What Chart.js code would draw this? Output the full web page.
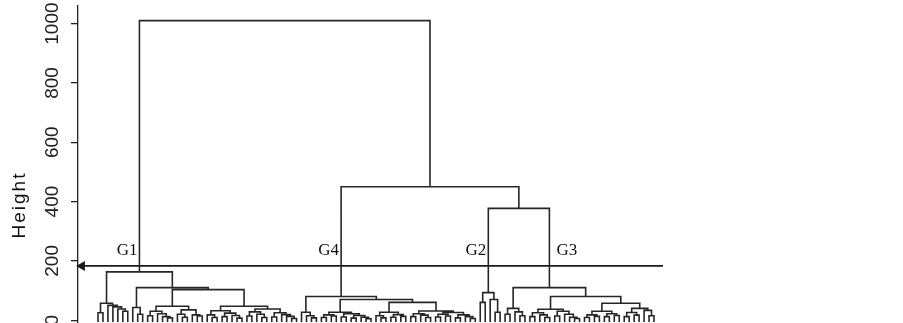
<!DOCTYPE html>
<html lang="en">
<head>
<meta charset="UTF-8">
<title>Dendrogram</title>
<script src="https://cdn.jsdelivr.net/npm/chart.js"></script>
<style>
  html, body { margin: 0; background: #fff; overflow: hidden; }
  /* the picture is cropped at the bottom: the canvas runs a few px past the window */
  #wrap { width: 903px; height: 328px; position: relative; }
</style>
</head>
<body>
<div id="wrap"><canvas id="tree"></canvas></div>
<script>
// merge heights: a node is [height, left, right], a leaf is 0
var g1Tree = [163,
  [57, [25, 0, 0], [50, 0, [45, 0, [38, 0, [30, 0, 0]]]]],
  [110,
    [43, 0, [20, 0, 0]],
    [103,
      [47,
        [30, [15, 0, 0], [22, 0, [12, 0, [8, 0, 0]]]],
        [35, [20, 0, [10, 0, 0]], [18, 0, [14, 0, 0]]]],
      [47,
        [32, [18, 0, [9, 0, 0]], [24, [12, 0, 0], [16, 0, [7, 0, 0]]]],
        [38, [28, [14, 0, 0], [20, 0, [9, 0, 0]]], [25, [11, 0, 0], [19, 0, [13, 0, [6, 0, 0]]]]]]]]];

var g4Tree = [80,
  [27, 0, [15, 0, [8, 0, 0]]],
  [70,
    [27, [18, [9, 0, 0], [14, 0, 0]], [22, [11, 0, 0], [16, [7, 0, 0], [10, 0, [5, 0, 0]]]]],
    [60,
      [27, [15, 0, [8, 0, 0]], [19, [10, 0, 0], [13, 0, 0]]],
      [31, [22, [12, 0, 0], [17, 0, [9, 0, 0]]], [26, [20, [11, 0, 0], [14, 0, 0]], [18, [8, 0, 0], [12, 0, [6, 0, 0]]]]]]]];

var g2Tree = [93, [60, 0, 0], [70, 0, [27, 0, 0]]];

var g3Tree = [110,
  [40, [20, 0, 0], [28, 0, [15, 0, 0]]],
  [80,
    [37, [25, [12, 0, 0], [18, 0, [9, 0, 0]]], [30, [14, 0, 0], [20, 0, [10, 0, [6, 0, 0]]]]],
    [57,
      [30, [18, [9, 0, 0], [13, 0, 0]], [22, [12, 0, 0], [16, 0, 0]]],
      [40, [26, [12, 0, 0], [17, 0, 0]], [33, 0, [15, 0, 0]]]]]];

var topHeights = [1010, 450, 377];   // root, G4 | (G2,G3), G2 | G3
var groupNames = ['G1', 'G4', 'G2', 'G3'];
var cutHeight = 183;                  // the cut line with the arrow
var labelHeight = 220;                // baseline of the group names
var yTicks = [0, 200, 400, 600, 800, 1000];

var yMin = -6.7, yMax = 1060;

var root = [topHeights[0], g1Tree, [topHeights[1], g4Tree, [topHeights[2], g2Tree, g3Tree]]];

// lay out leaves 1..N left to right, each merge sits midway over its children
var segs = [];
var nodeX = new Map();
var leafCount = 0;
function layout(node) {
  if (!Array.isArray(node)) {
    leafCount++;
    return { x: leafCount, y: yMin };
  }
  var l = layout(node[1]);
  var r = layout(node[2]);
  var h = node[0];
  segs.push({ x: l.x, y: l.y }, { x: l.x, y: h }, { x: r.x, y: h }, { x: r.x, y: r.y }, { x: null, y: null });
  var x = (l.x + r.x) / 2;
  nodeX.set(node, x);
  return { x: x, y: h };
}
layout(root);
var groupX = [g1Tree, g4Tree, g2Tree, g3Tree].map(function (t) { return nodeX.get(t); });

// first leaf sits at 98px, last at 654px, plot runs 78..663px
var N = leafCount;
var step = (654 - 98) / (N - 1);
var xMin = 1 - (98 - 78) / step;
var xMax = N + (663 - 654) / step;

var annotate = {
  id: 'annotate',
  afterDatasetsDraw: function (chart) {
    var ctx = chart.ctx, xs = chart.scales.x, ys = chart.scales.y;
    ctx.save();
    ctx.fillStyle = '#111';
    ctx.font = '17px "Liberation Serif"';
    ctx.textBaseline = 'alphabetic';
    groupNames.forEach(function (name, i) {
      var px = xs.getPixelForValue(groupX[i]);
      var toRight = name === 'G3';
      ctx.textAlign = toRight ? 'left' : 'right';
      ctx.fillText(name, px + (toRight ? 7 : -2), ys.getPixelForValue(labelHeight));
    });
    ctx.translate(20, 205);
    ctx.rotate(-Math.PI / 2);
    ctx.font = '19px "Liberation Sans"';
    ctx.textAlign = 'center';
    ctx.textBaseline = 'middle';
    ctx.letterSpacing = '2px';
    ctx.fillText('Height', 0, 0);
    ctx.restore();
  }
};

new Chart(document.getElementById('tree'), {
  type: 'scatter',
  data: {
    datasets: [
      {
        data: segs,
        showLine: true,
        spanGaps: false,
        borderColor: '#262626',
        borderWidth: 1.6,
        pointRadius: 0
      },
      {
        data: [{ x: xMin + 4 / step, y: cutHeight }, { x: xMax, y: cutHeight }],
        showLine: true,
        borderColor: '#1a1a1a',
        borderWidth: 1.8,
        pointStyle: 'triangle',
        pointRotation: -90,
        pointRadius: [4, 0],
        backgroundColor: '#1a1a1a',
        pointBorderColor: '#1a1a1a',
        clip: false
      }
    ]
  },
  options: {
    responsive: true,
    maintainAspectRatio: false,
    animation: false,
    layout: { padding: { top: 3, right: 240, bottom: 0, left: 0 } },
    plugins: { legend: { display: false }, tooltip: { enabled: false } },
    scales: {
      x: { type: 'linear', min: xMin, max: xMax, display: false },
      y: {
        type: 'linear',
        min: yMin,
        max: yMax,
        afterBuildTicks: function (s) { s.ticks = yTicks.map(function (v) { return { value: v }; }); },
        afterFit: function (s) { s.width = 78; s.paddingTop = 0; s.paddingBottom = 0; },
        border: { display: true, color: '#222', width: 1.3 },
        grid: { drawOnChartArea: false, drawTicks: true, tickLength: 7, color: '#222', lineWidth: 1.3 },
        ticks: {
          minRotation: 90,
          maxRotation: 90,
          crossAlign: 'center',
          padding: -3,
          color: '#222',
          font: { family: 'Liberation Sans', size: 19 },
          callback: function (v) { return String(v); }
        }
      }
    }
  },
  plugins: [annotate]
});
</script>
</body>
</html>
